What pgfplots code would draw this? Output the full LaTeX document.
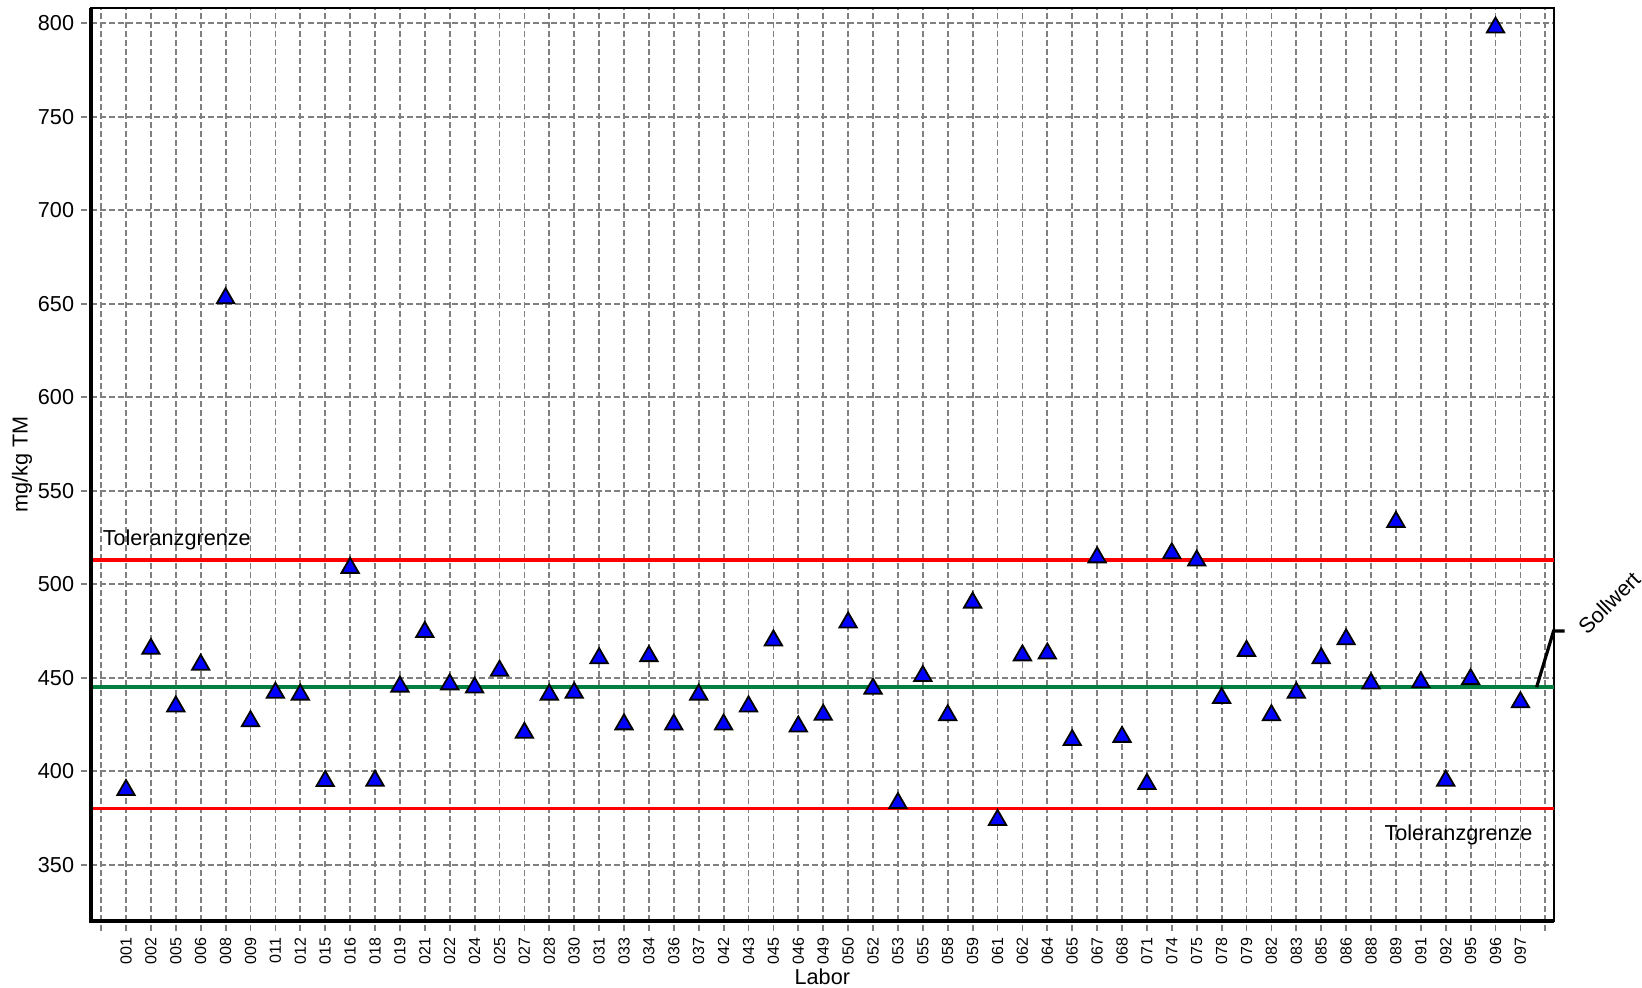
\documentclass[border=0pt]{standalone}
\usepackage{fontspec}
\setmainfont{Liberation Sans}
\usepackage{pgfplots}
\pgfplotsset{compat=1.18}
\definecolor{sollgreen}{RGB}{0,128,64}
\definecolor{gridgray}{RGB}{128,128,128}

\begin{document}
\begin{tikzpicture}
\begin{axis}[
  scale only axis,
  width=730pt, height=455.5pt,
  xmin=-0.4, xmax=58.33,
  ymin=320, ymax=808,
  xtick={0,...,58},
  xticklabels={,001,002,005,006,008,009,011,012,015,016,018,019,021,022,024,025,027,028,030,031,033,034,036,037,042,043,045,046,049,050,052,053,055,058,059,061,062,064,065,067,068,071,074,075,078,079,082,083,085,086,088,089,091,092,095,096,097,},
  ytick={350,400,...,800},
  xtick pos=left, ytick pos=left,
  tick align=outside,
  major tick length=5pt,
  tick style={gridgray, line width=0.9pt, dash pattern=on 3pt off 1.5pt},
  grid=major,
  grid style={gridgray, line width=0.9pt, dash pattern=on 3pt off 1.5pt},
  axis line style={black, line width=1pt},
  x tick label style={rotate=90, anchor=east, font=\fontsize{8}{9}\selectfont},
  y tick label style={font=\fontsize{10.8}{12}\selectfont},
  /pgf/number format/assume math mode=true,
  xlabel={Labor}, ylabel={mg/kg TM},
  label style={font=\fontsize{10.8}{12}\selectfont},
  xlabel style={at={([yshift=-28pt]rel axis cs:0.5,0)}, anchor=center, inner sep=0pt},
  ylabel style={at={([xshift=-34.5pt]rel axis cs:0,0.5)}, anchor=center},
  clip=false,
]
\addplot[red, line width=1.8pt] coordinates {(-0.4,513) (58.33,513)};
\addplot[red, line width=1.8pt] coordinates {(-0.4,380) (58.33,380)};
\addplot[sollgreen, line width=2pt] coordinates {(-0.4,445) (58.33,445)};
\addplot[only marks, mark=triangle*, mark size=5pt,
  mark options={fill=blue, draw=black, line width=0.9pt}] table {
x y
1 390
2 465.5
3 434.7
4 457
5 653
6 426.8
7 442
8 441
9 394.8
10 508.8
11 395
12 445.3
13 474.5
14 446.5
15 444.8
16 453.8
17 420.6
18 441
19 442
20 460.5
21 425.1
22 461.6
23 425
24 441
25 425
26 434.7
27 470
28 424
29 430.2
30 479.6
31 444.2
32 383
33 451
34 430
35 490.2
36 374
37 462
38 463
39 416.7
40 514.4
41 418.4
42 393.2
43 516.6
44 512.7
45 439.2
46 464.4
47 430
48 442
49 460.5
50 470.6
51 447
52 533.4
53 447.6
54 395
55 449.3
56 797.8
57 436.9
};
\draw[black, line width=1.75pt] (rel axis cs:0,1) -- (rel axis cs:0,0) -- (rel axis cs:1,0);
\node[anchor=base west, font=\fontsize{10.8}{12}\selectfont, inner sep=0pt] at (axis cs:0.05,521) {Toleranzgrenze};
\node[anchor=base east, font=\fontsize{10.8}{12}\selectfont, inner sep=0pt] at (axis cs:57.5,363) {Toleranzgrenze};
\draw[black, line width=1.6pt] (axis cs:57.65,445) -- (axis cs:58.33,475) -- ([xshift=5.5pt]axis cs:58.33,475);
\node[anchor=south west, rotate=45, font=\fontsize{10.8}{12}\selectfont, inner sep=0pt] at ([xshift=17pt,yshift=-2.5pt]axis cs:58.33,475) {Sollwert};
\path ([xshift=-45.5pt,yshift=4.2pt]rel axis cs:0,1) ([yshift=-33.5pt]rel axis cs:0,0);
\end{axis}
\end{tikzpicture}
\end{document}
